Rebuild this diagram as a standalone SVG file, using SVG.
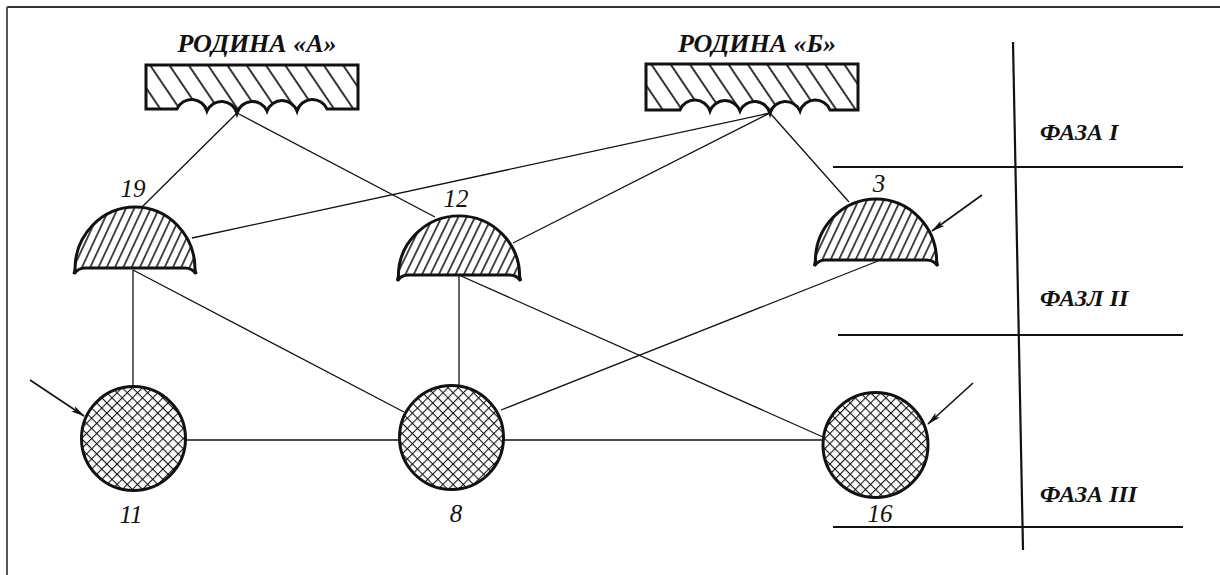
<svg xmlns="http://www.w3.org/2000/svg" width="1220" height="575" viewBox="0 0 1220 575">
<defs>
<pattern id="hatchR" patternUnits="userSpaceOnUse" width="16" height="10" patternTransform="rotate(-34)">
<line x1="8" y1="-1" x2="8" y2="11" stroke="#111" stroke-width="1.7"/>
</pattern>
<pattern id="hatchD" patternUnits="userSpaceOnUse" width="7.5" height="10" patternTransform="rotate(25)">
<line x1="3.7" y1="-1" x2="3.7" y2="11" stroke="#111" stroke-width="1.5"/>
</pattern>
<pattern id="cross" patternUnits="userSpaceOnUse" width="7.2" height="7.2" patternTransform="rotate(45)">
<rect width="7.2" height="7.2" fill="#fff"/>
<line x1="0" y1="0" x2="7.2" y2="0" stroke="#111" stroke-width="2.1"/>
<line x1="0" y1="0" x2="0" y2="7.2" stroke="#111" stroke-width="2.1"/>
</pattern>
<marker id="arr" viewBox="0 0 14 8" refX="13" refY="4" markerWidth="14" markerHeight="8" markerUnits="userSpaceOnUse" orient="auto">
<path d="M0,0.8 L14,4 L0,7.2 L3,4 Z" fill="#111"/>
</marker>
<path id="dome" d="M -61 5 L -60 0 C -60 -34 -33 -62 0 -62 C 33 -62 60 -34 60 0 L 61 5 Q 57 -1 50 -1 L -50 -1 Q -57 -1 -61 5 Z"/>
</defs>
<style>
.lbl{font-family:"Liberation Serif","Times New Roman",serif;font-weight:bold;font-style:italic;fill:#111}
.num{font-family:"Liberation Serif","Times New Roman",serif;font-style:italic;fill:#111;font-size:25px;text-anchor:middle}
.edge{stroke:#111;stroke-width:1.3;fill:none}
.arrow{stroke:#111;stroke-width:1.6;fill:none}
.outline{stroke:#111;stroke-width:3}
.rule{stroke:#111;stroke-width:2.2}
</style>
<rect width="1220" height="575" fill="#fff"/>
<g id="frame">
<line x1="7" y1="7" x2="1220" y2="7" stroke="#333" stroke-width="1.8"/>
<line x1="7" y1="7" x2="7" y2="575" stroke="#555" stroke-width="2"/>
</g>
<g id="connectors">
<line class="edge" x1="237" y1="113" x2="142" y2="207"/>
<line class="edge" x1="237" y1="113" x2="435" y2="217"/>
<line class="edge" x1="770" y1="113" x2="192" y2="238"/>
<line class="edge" x1="770" y1="113" x2="513" y2="243"/>
<line class="edge" x1="770" y1="113" x2="849" y2="202"/>
<line class="edge" x1="133" y1="270" x2="133" y2="386"/>
<line class="edge" x1="133" y1="270" x2="404" y2="412"/>
<line class="edge" x1="459" y1="276" x2="459" y2="386"/>
<line class="edge" x1="461" y1="276" x2="823" y2="437"/>
<line class="edge" x1="878" y1="261" x2="501" y2="410"/>
<line class="edge" x1="185" y1="440" x2="400" y2="440"/>
<line class="edge" x1="503" y1="440" x2="823" y2="440"/>
<line class="arrow" x1="30" y1="380" x2="84" y2="416" marker-end="url(#arr)"/>
<line class="arrow" x1="982" y1="195" x2="932" y2="231" marker-end="url(#arr)"/>
<line class="arrow" x1="973" y1="383" x2="928" y2="424" marker-end="url(#arr)"/>
</g>
<g id="rodina-a">
<path d="M146 65 L358 65 L358 109 L327 109 A16 16 0 0 0 297 111 A16 16 0 0 0 267 111 A16 16 0 0 0 237 113 A16 16 0 0 0 207 111 A16 16 0 0 0 177 109 L146 109 Z" fill="url(#hatchR)" stroke="#111" stroke-width="3" stroke-linejoin="miter"/>
<text class="lbl" x="257" y="52" font-size="26" text-anchor="middle">РОДИНА «А»</text>
</g>
<g id="rodina-b">
<path d="M646 64 L858 64 L858 110 L830 110 A16 16 0 0 0 800 111 A16 16 0 0 0 770 113 A16 16 0 0 0 740 111 A16 16 0 0 0 710 111 A16 16 0 0 0 680 110 L646 110 Z" fill="url(#hatchR)" stroke="#111" stroke-width="3" stroke-linejoin="miter"/>
<text class="lbl" x="757" y="52" font-size="26" text-anchor="middle">РОДИНА «Б»</text>
</g>
<g id="n19">
<use href="#dome" transform="translate(135,269)" fill="url(#hatchD)" class="outline"/>
<text class="num" x="133" y="197">19</text>
</g>
<g id="n12">
<use href="#dome" transform="translate(459,276) scale(1.01,0.97)" fill="url(#hatchD)" class="outline"/>
<text class="num" x="456" y="207">12</text>
</g>
<g id="n3">
<use href="#dome" transform="translate(876,261) scale(1.01,1)" fill="url(#hatchD)" class="outline"/>
<text class="num" x="879" y="192">3</text>
</g>
<g id="n11">
<circle cx="133.5" cy="438.5" r="52" fill="url(#cross)" class="outline"/>
<text class="num" x="131" y="523">11</text>
</g>
<g id="n8">
<circle cx="451.5" cy="437.5" r="52" fill="url(#cross)" class="outline"/>
<text class="num" x="456" y="522">8</text>
</g>
<g id="n16">
<circle cx="875.5" cy="445" r="52.5" fill="url(#cross)" class="outline"/>
<text class="num" x="880" y="522">16</text>
</g>
<g id="phases">
<line class="rule" x1="1013" y1="42" x2="1023" y2="550"/>
<line class="rule" x1="833" y1="167" x2="1183" y2="167"/>
<line class="rule" x1="838" y1="335" x2="1183" y2="335"/>
<line class="rule" x1="833" y1="527" x2="1183" y2="527"/>
<text class="lbl" x="1040" y="140" font-size="24">ФАЗА I</text>
<text class="lbl" x="1040" y="306" font-size="24">ФАЗЛ II</text>
<text class="lbl" x="1040" y="502" font-size="24">ФАЗА III</text>
</g>
</svg>
